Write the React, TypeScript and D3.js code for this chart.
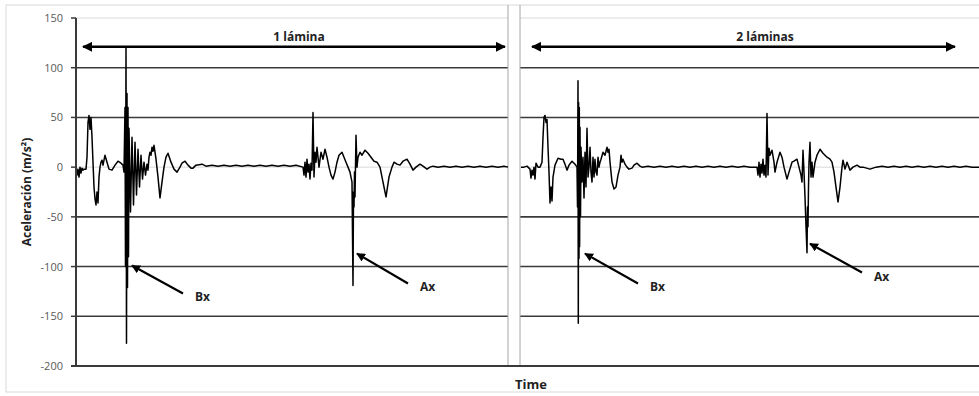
import React from "react";
import * as d3 from "d3";

const width = 979;
const height = 396;
const margin = { top: 18, bottom: 30, left: 76 };
const gapLeft = 508;
const gapRight = 520;

const yTicks = [150, 100, 50, 0, -50, -100, -150, -200];
const darkGrid = [100, 50, -50, -100, -150];
const lightGrid = [150, 0];

const panelTitles = ["1 lámina", "2 láminas"];
const panelSpans = [432, 458];

// [time, acceleration], panel 1
const trace1: [number, number][] = [
  [0, 0], [1, -8], [2, -2], [3, -10], [4, 0], [5, -6], [6, -1], [7, -3], [8, -2], [10, -2],
  [11, 10], [12, 45], [13, 52], [14, 38], [15, 50], [16, 30], [17, 5], [18, -20], [19, -32],
  [20, -38], [21, -25], [22, -36], [23, -10], [24, 0], [25, 5], [26, 7], [27, 2], [29, 12],
  [31, 5], [33, -2], [36, -3], [39, 2], [42, 6], [45, 4], [47, 2], [48, -5],
  [49, 60], [49.5, -100], [50, 121], [50.5, -177], [51, 74], [51.5, -121], [52, 60],
  [52.5, -90], [53, 39], [54.5, -45], [56, 30], [57.5, -38], [59, 25], [60.5, -28],
  [62, 18], [63.5, -20], [65, 12], [66.5, -12], [68, 5], [69.5, -8], [71, 3], [72, -3],
  [73, 10], [74, 15], [75, 12], [76, 20], [77, 16],
  [78, 22], [79, 15], [80, 8], [82, -10], [84, -31], [86, -15], [88, 0], [90, 10],
  [92, 14], [95, 5], [98, -2], [101, -5], [104, 0], [106, 4], [109, 6], [112, 2], [115, -1],
  [117, -1], [120, 2], [126, 3], [130, 1], [136, 2], [142, 1], [148, 2], [154, 1], [160, 2],
  [166, 1], [172, 2], [178, 1], [184, 2], [190, 1], [196, 2], [202, 1], [208, 2], [214, 1],
  [220, 2], [227, 0], [228, -8], [229, 5], [230, -10], [231, 8], [232, -5], [233, 3],
  [234, -12], [235, 4], [236, -3], [237, 55], [238, -10], [239, 15], [240, 5], [241, 20],
  [242, 10], [243, 0], [245, 15], [247, 8], [249, 18], [251, 10], [253, 0], [255, -8],
  [257, -12], [259, -5], [261, 5], [263, 12], [266, 15], [268, 10], [270, 5], [272, 0],
  [274, -5], [276, -15], [277, -119], [277.5, -25], [278, -40], [278.5, -5], [279, -30],
  [280, 32], [281, 0], [282, 10], [284, 15], [286, 12], [289, 17], [292, 14], [295, 10],
  [298, 6], [301, 5], [304, 0], [307, -15], [310, -30], [313, -10], [316, 0], [318, 5],
  [321, 3], [324, 2], [327, 6], [331, 8], [334, 3], [337, -3], [340, 0], [344, 3], [347, 1],
  [351, -2], [354, 0], [357, 1], [362, 0], [368, 1], [374, 0], [380, 1], [386, 0], [392, 1],
  [398, 0], [404, 1], [410, 0], [416, 1], [422, 0], [428, 1], [432, 0]
];

// [time, acceleration], panel 2
const trace2: [number, number][] = [
  [0, 0], [3, 0], [6, 1], [9, -2], [10, -11], [11, -3], [12, -8], [13, 0], [14, -12], [15, 4],
  [17, 0], [19, 0], [21, 5], [22, 30], [23, 50], [24, 52], [25, 45], [26, 48], [27, 20],
  [28, -5], [29, -36], [30, -20], [31, -34], [32, -10], [34, 2], [37, 9], [40, 8], [42, 8],
  [44, 3], [46, -3], [48, 2], [51, 6], [54, 3], [56, 0], [56.5, -40], [57, 87], [57.3, -157],
  [57.6, 65], [58, -92], [58.3, 60], [58.6, -80], [59, 40], [59.5, -50], [60, 20], [61, -15],
  [62, 10], [63, -31], [64, 15], [65, -20], [66, 39], [67, -10], [68, 0], [69, 20], [70, -5],
  [71, -15], [72, 10], [73, -10], [74, 8], [75, -5], [76, -8], [77, 10], [78, 0], [79, 5],
  [80, 8], [82, 15], [84, 12], [86, 20], [87, 15], [88, 18], [89, 5], [90, -5], [91, -15],
  [93, -22], [95, -20], [97, -8], [99, 0], [100, 12], [101, 5], [102, 8], [104, 3], [106, 0],
  [108, -2], [111, -1], [113, 2], [116, 4], [119, 1], [121, 0], [127, 1], [133, 0], [139, 1],
  [145, 0], [151, 1], [157, 0], [163, 1], [169, 0], [175, 1], [181, 0], [187, 1], [193, 0],
  [199, 1], [205, 0], [211, 1], [217, 0], [223, 1], [229, 0], [236, 0], [237, -8], [238, 5],
  [239, -10], [240, 3], [241, -6], [242, 8], [243, -8], [244, 2], [245, -10], [246, 54],
  [247, -8], [248, 19], [249, 12], [251, 17], [253, 5], [254, -5], [256, 5], [259, 15],
  [261, 10], [263, 0], [266, -12], [268, -5], [271, 5], [273, 6], [276, 8], [278, 0],
  [280, -8], [281, -15], [282, 17], [283, -5], [284, -30], [285, -60], [286, -86],
  [286.5, -40], [287, -60], [287.5, -20], [288, 5], [289, 25], [290, -10], [291, 5],
  [292, -10], [294, 5], [296, 12], [299, 18], [302, 14], [306, 10], [309, 8], [311, 5],
  [313, -5], [315, -20], [317, -35], [319, -20], [321, 0], [322, 7], [324, -2], [326, 5],
  [329, -3], [332, 0], [336, 2], [339, 0], [342, 0], [349, -2], [355, 0], [361, 1], [367, 0],
  [373, 1], [379, 0], [385, 1], [391, 0], [397, 1], [403, 0], [409, 1], [415, 0], [421, 1],
  [427, 0], [433, 1], [439, 0], [445, 1], [451, 0], [458, 0]
];

const traces = [trace1, trace2];

// annotation arrows: [label, panel, tail time, tail accel, head time, head accel]
const callouts: [string, number, number, number, number, number][] = [
  ["Bx", 0, 107, -127, 56, -99],
  ["Ax", 0, 332, -117, 281, -87],
  ["Bx", 1, 117, -117, 64, -87],
  ["Ax", 1, 341, -106, 289, -77]
];

const font = "'Open Sans', 'DejaVu Sans', sans-serif";

function App() {
  const y = d3.scaleLinear().domain([-200, 150]).range([height - margin.bottom, margin.top]);
  const xScales = [
    d3.scaleLinear().domain([0, panelSpans[0]]).range([margin.left, gapLeft]),
    d3.scaleLinear().domain([0, panelSpans[1]]).range([gapRight + 1, width])
  ];
  const plotBottom = y(-200);

  const arrowY = y(121);

  return (
    <svg
      width={width}
      height={height}
      style={{ position: "absolute", left: 0, top: 0, background: "#fff" }}
    >
      <defs>
        <marker id="head" viewBox="0 0 10 10" refX="9" refY="5" markerWidth="4" markerHeight="4" orient="auto-start-reverse">
          <path d="M0,0 L10,5 L0,10 z" fill="#000" />
        </marker>
      </defs>
      <rect x={6} y={5} width={width} height={387} fill="none" stroke="#d9d9d9" />

      {/* gridlines, split around the gap */}
      {lightGrid.map((v) => (
        <g key={`l${v}`}>
          <line x1={margin.left} x2={gapLeft} y1={y(v)} y2={y(v)} stroke="#d9d9d9" />
          <line x1={gapRight} x2={width} y1={y(v)} y2={y(v)} stroke="#d9d9d9" />
        </g>
      ))}
      {darkGrid.map((v) => (
        <g key={`d${v}`}>
          <line x1={margin.left} x2={gapLeft} y1={y(v)} y2={y(v)} stroke="#3a3a3a" strokeWidth={1.6} />
          <line x1={gapRight} x2={width} y1={y(v)} y2={y(v)} stroke="#3a3a3a" strokeWidth={1.6} />
        </g>
      ))}

      {/* panel separators */}
      <line x1={gapLeft} x2={gapLeft} y1={5} y2={plotBottom} stroke="#a6a6a6" />
      <line x1={gapRight} x2={gapRight} y1={5} y2={plotBottom} stroke="#a6a6a6" />

      {/* traces */}
      {traces.map((tr, i) => {
        const line = d3
          .line<[number, number]>()
          .x((d) => xScales[i](d[0]))
          .y((d) => y(d[1]));
        return <path key={i} d={line(tr) || ""} fill="none" stroke="#000" strokeWidth={1.5} strokeLinejoin="round" />;
      })}

      {/* axes */}
      <line x1={margin.left} x2={margin.left} y1={margin.top} y2={plotBottom} stroke="#3a3a3a" strokeWidth={2} />
      <line x1={margin.left - 5} x2={width} y1={plotBottom} y2={plotBottom} stroke="#3a3a3a" strokeWidth={2} />
      {yTicks.map((t) => (
        <g key={t}>
          <line x1={margin.left - 5} x2={margin.left} y1={y(t)} y2={y(t)} stroke="#3a3a3a" strokeWidth={1.5} />
          <text x={63} y={y(t) + 4} textAnchor="end" fontFamily={font} fontSize={11} fill="#595959">
            {t}
          </text>
        </g>
      ))}
      <text
        transform={`translate(31 ${y(-25)}) rotate(-90)`}
        textAnchor="middle"
        fontFamily={font}
        fontSize={12}
        fontWeight="bold"
        fill="#222"
      >
        Aceleración (m/s²)
      </text>
      <text x={531} y={389} textAnchor="middle" fontFamily={font} fontSize={13} fontWeight="bold" fill="#222">
        Time
      </text>

      {/* panel span arrows */}
      {panelTitles.map((title, i) => {
        const x0 = i === 0 ? xScales[0](7) : xScales[1](11);
        const x1 = i === 0 ? xScales[0](429) : xScales[1](434);
        return (
          <g key={title}>
            <line x1={x0} x2={x1} y1={arrowY} y2={arrowY} stroke="#000" strokeWidth={2.5} markerStart="url(#head)" markerEnd="url(#head)" />
            <text x={i === 0 ? 299 : 765} y={41} textAnchor="middle" fontFamily={font} fontSize={12} fontWeight="bold" fill="#222">
              {title}
            </text>
          </g>
        );
      })}

      {/* callouts */}
      {callouts.map(([label, p, t0, a0, t1, a1], i) => {
        const xs = xScales[p];
        return (
          <g key={i}>
            <line x1={xs(t0)} y1={y(a0)} x2={xs(t1)} y2={y(a1)} stroke="#000" strokeWidth={2.2} markerEnd="url(#head)" />
            <text x={xs(t0) + 12} y={y(a0) + 8} fontFamily={font} fontSize={12} fontWeight="bold" fill="#222">
              {label}
            </text>
          </g>
        );
      })}
    </svg>
  );
}

export default App;
